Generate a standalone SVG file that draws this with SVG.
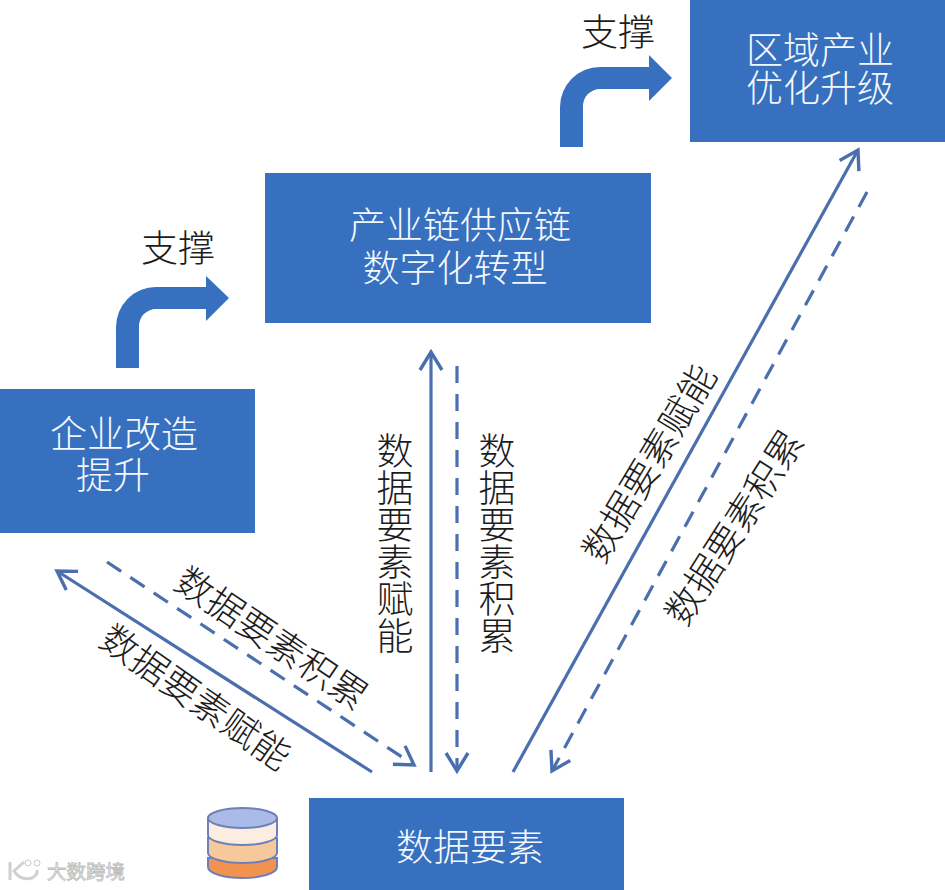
<svg xmlns="http://www.w3.org/2000/svg" width="945" height="890" viewBox="0 0 945 890">
<style>
.box{fill:#3670bf}
.w,.k{font-family:"Noto Sans CJK SC","Noto Sans",sans-serif;font-size:37px;font-weight:300;text-anchor:middle;dominant-baseline:central}
.w{fill:#f4f8fd}
.k{fill:#1c1c1c}
.v{writing-mode:vertical-rl;text-orientation:upright}
.ln{fill:none;stroke:#4a6fae;stroke-width:3.2}
.d{stroke-dasharray:17 11}
.bent{fill:#3670bf}
.cy{stroke:#6f7fb8;stroke-width:2}
</style>
<defs>
<marker id="a" markerUnits="userSpaceOnUse" markerWidth="30" markerHeight="30" refX="25" refY="15" orient="auto" viewBox="0 0 30 30">
<path d="M7 4 L25 15 L7 26" fill="none" stroke="#4a6fae" stroke-width="3.4"/>
</marker>
</defs>
<rect width="945" height="890" fill="#fff"/>
<g id="connectors">
<path class="ln" d="M372 772 L57 571" marker-end="url(#a)"/>
<path class="ln d" d="M107 562 L414 765" marker-end="url(#a)"/>
<path class="ln" d="M431 772 L431 352" marker-end="url(#a)"/>
<path class="ln d" d="M457 366 L457 771" marker-end="url(#a)"/>
<path class="ln" d="M513 772 L858 150" marker-end="url(#a)"/>
<path class="ln d" d="M867 192 L552 771" marker-end="url(#a)"/>
<path class="bent" d="M116 368 V327 A40 40 0 0 1 156 287 H206 V276 L229 298 L206 321 V309 H156 A17 17 0 0 0 139 327 V368 Z"/>
<path class="bent" d="M560 147 V107 A40 40 0 0 1 600 67 H649 V55 L672 78 L649 101 V89 H600 A17 17 0 0 0 583 107 V147 Z"/>
</g>
<g id="node-region">
<rect class="box" x="690" y="0" width="255" height="142"/>
<text class="w"><tspan x="820" y="48">区域产业</tspan><tspan x="820" y="86">优化升级</tspan></text>
</g>
<g id="node-chain">
<rect class="box" x="265" y="173" width="386" height="150"/>
<text class="w"><tspan x="460" y="223">产业链供应链</tspan><tspan x="455" y="266">数字化转型</tspan></text>
</g>
<g id="node-enterprise">
<rect class="box" x="0" y="389" width="255" height="144"/>
<text class="w"><tspan x="124" y="432">企业改造</tspan><tspan x="113" y="473">提升</tspan></text>
</g>
<g id="node-data">
<rect class="box" x="309" y="798" width="315" height="92"/>
<text class="w" x="470" y="845">数据要素</text>
</g>
<g id="db-icon">
<path class="cy" fill="#f07f33" fill-opacity=".85" d="M208 858 V867 A34.500 11 0 0 0 277 867 V858 Z"/>
<path class="cy" fill="#f6c99b" d="M208 838 V853 A34.500 10 0 0 0 277 853 V838 Z"/>
<path class="cy" fill="#fbeee0" d="M208 818 V835 A34.500 10 0 0 0 277 835 V818 Z"/>
<ellipse class="cy" fill="#a9bbe6" cx="242.500" cy="818" rx="34.500" ry="10"/>
</g>
<g id="labels">
<text class="k" x="178" y="246">支撑</text>
<text class="k" x="618" y="30">支撑</text>
<text class="k v" x="395" y="543.500">数据要素赋能</text>
<text class="k v" x="497" y="543.500">数据要素积累</text>
<text class="k" transform="translate(197 695) rotate(35)">数据要素赋能</text>
<text class="k" transform="translate(273 636) rotate(34)">数据要素积累</text>
<text class="k" transform="translate(647 462) rotate(-59)">数据要素赋能</text>
<text class="k" transform="translate(732 526) rotate(-57.500)">数据要素积累</text>
</g>
<g id="watermark" fill="#eeeeee" stroke="#bdbdbd" stroke-width=".8">
<path d="M10 862 V880 M24 862 L14 871 Q20 881 32 878 Q38 875 37 870" fill="none" stroke-width="3" stroke="#d0d0d0"/>
<circle cx="28" cy="863" r="3" fill="none"/><circle cx="37" cy="863" r="3" fill="none"/>
<text x="47" y="879" font-size="19.500" font-family="Noto Sans CJK SC,sans-serif">大数跨境</text>
</g>
</svg>
